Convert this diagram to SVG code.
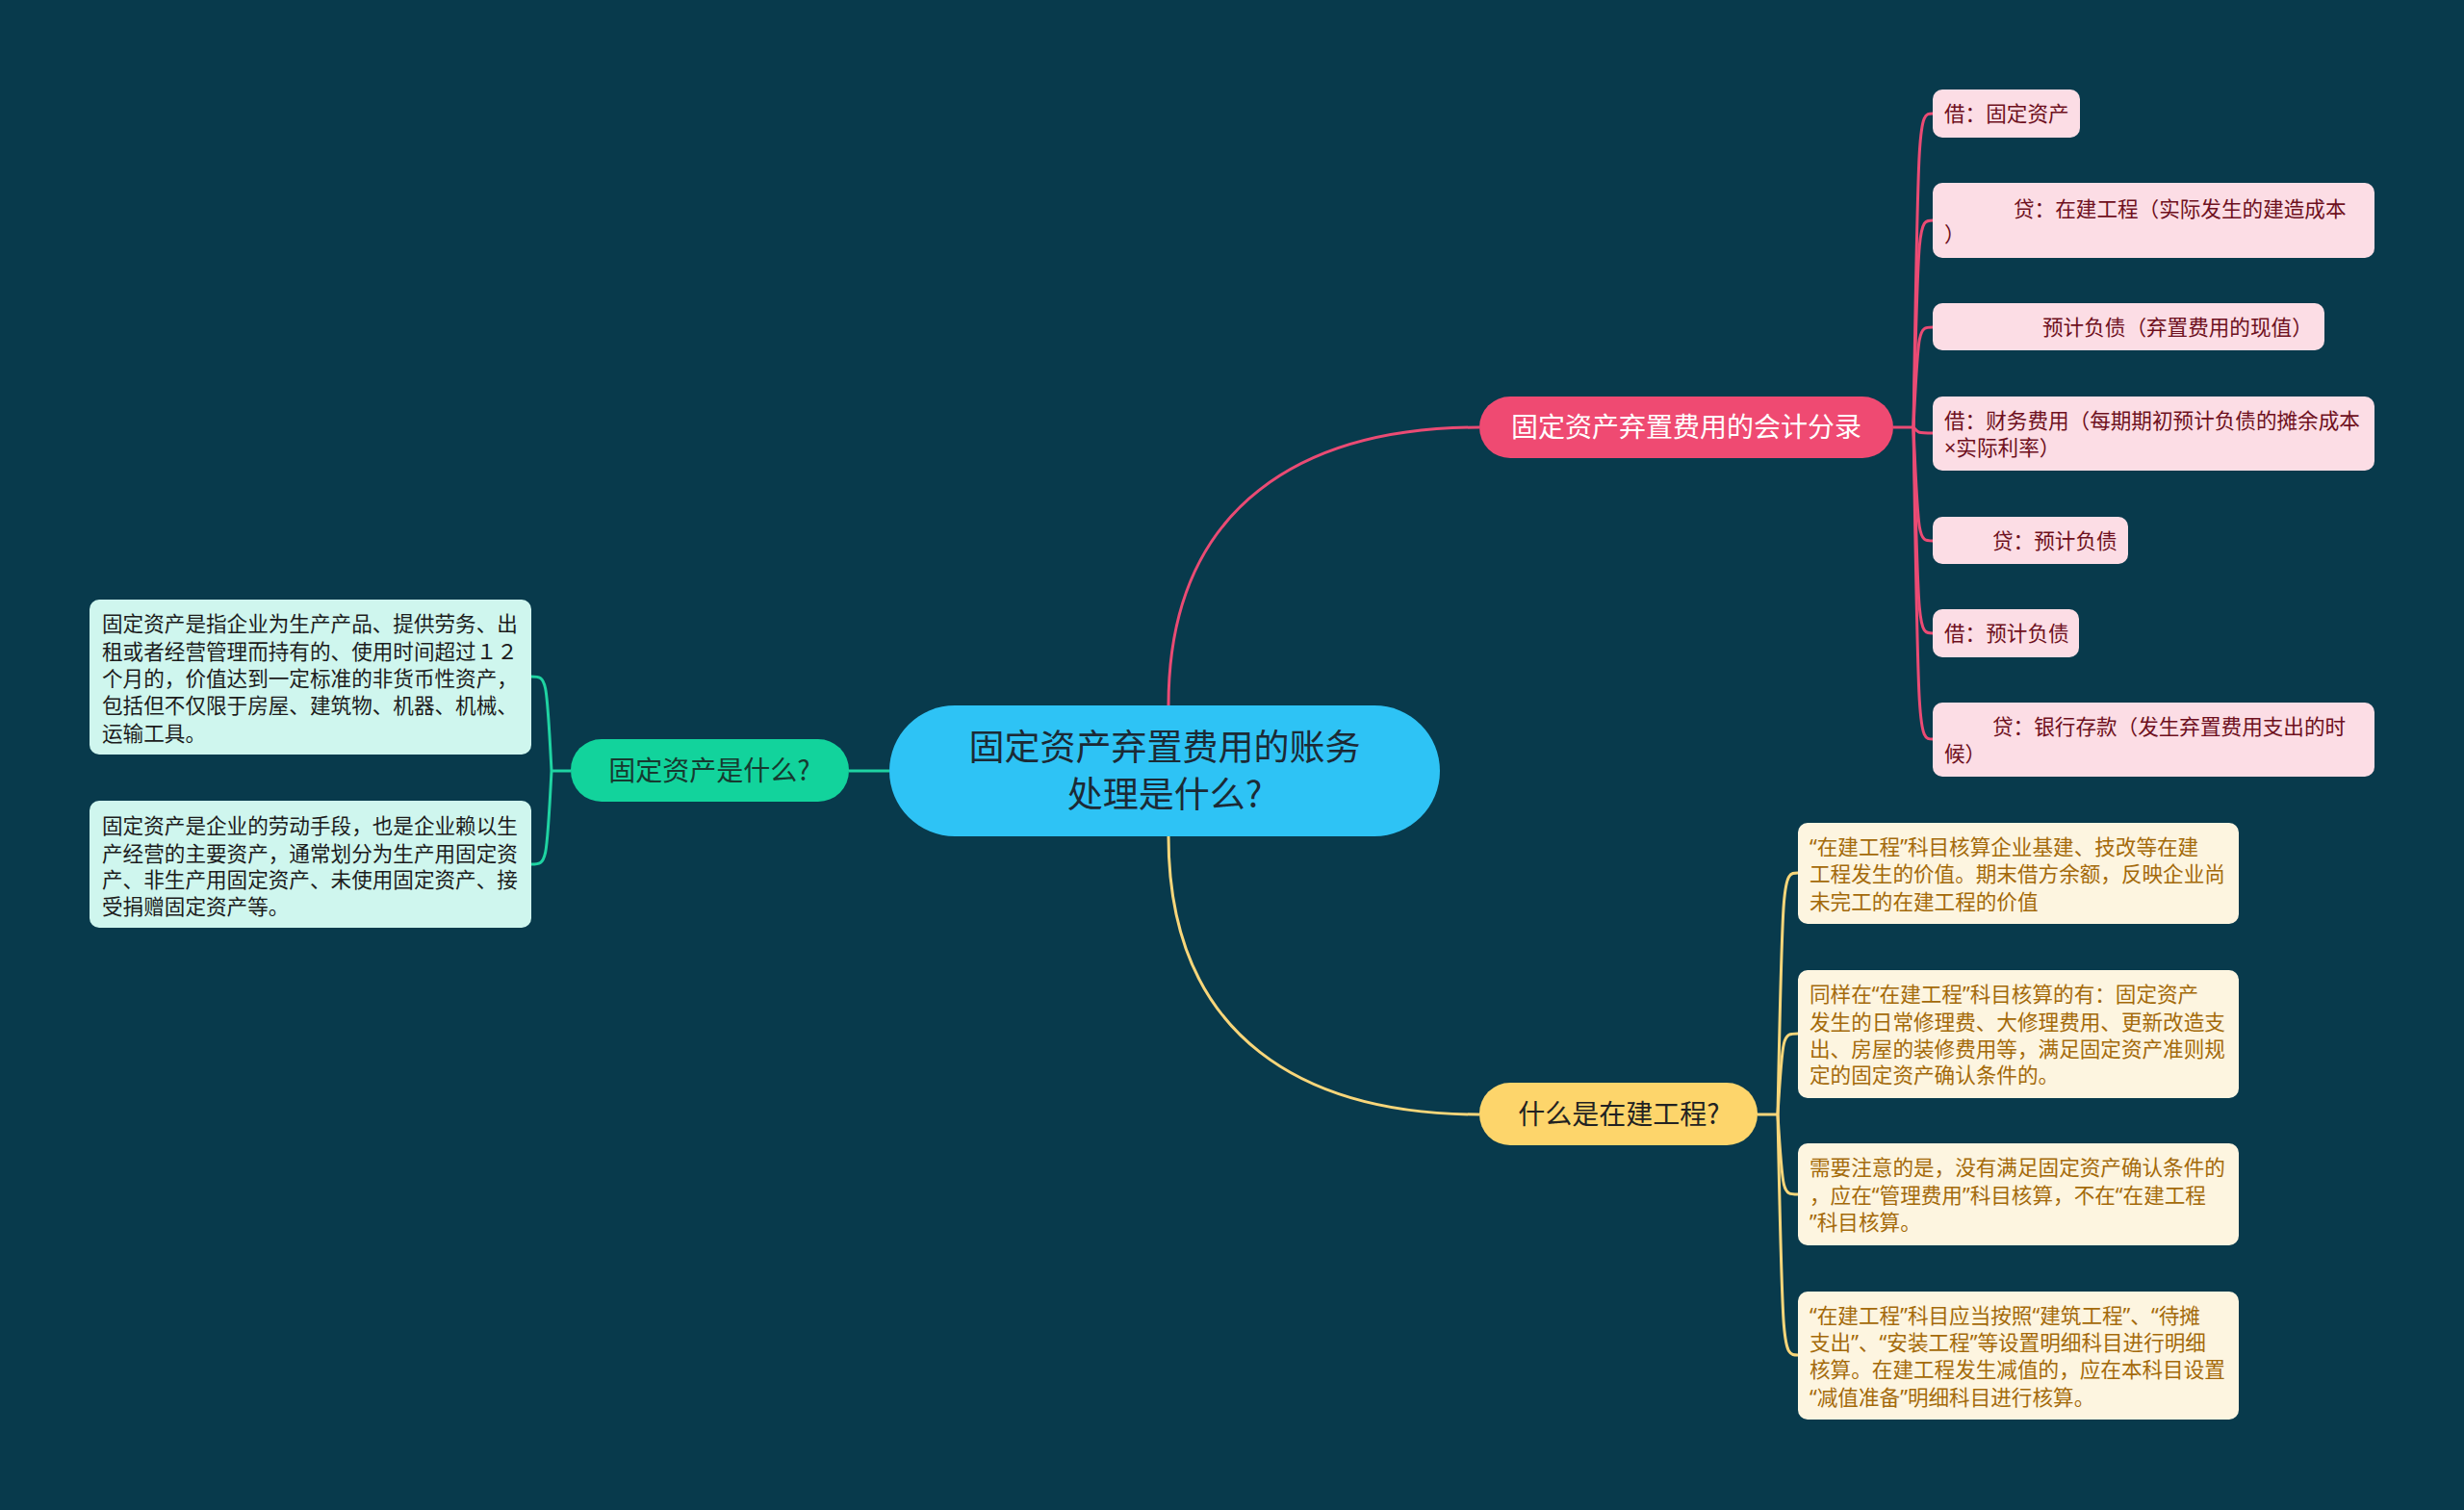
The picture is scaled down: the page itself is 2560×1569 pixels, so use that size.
<svg xmlns="http://www.w3.org/2000/svg" width="2560" height="1569" viewBox="0 0 2560 1569">
<defs>
<style>
text{font-family:"Noto Sans CJK SC","Noto Sans",sans-serif;}
.bg{fill:#083a4c;}
.c-pink{fill:none;stroke:#ea4b74;stroke-width:3;}
.c-yel{fill:none;stroke:#f8d67a;stroke-width:3;}
.c-grn{fill:none;stroke:#1fd3a2;stroke-width:3;}
.root{fill:#2ec3f5;}
.root-t{font-size:37px;fill:#1c2a35;text-anchor:middle;}
.b-pink{fill:#ef4a72;}
.b-yel{fill:#fdd56b;}
.b-grn{fill:#12d39c;}
.bt-pink{font-size:28px;fill:#ffffff;text-anchor:middle;}
.bt-dark{font-size:28px;fill:#222222;text-anchor:middle;}
.bt-grn{font-size:28px;fill:#163a30;text-anchor:middle;}
.l-pink{fill:#fcdde5;}
.l-yel{fill:#fdf5e0;}
.l-grn{fill:#cff6ee;}
.lt-pink,.lt-yel{font-family:"Noto Sans","Noto Sans CJK SC",sans-serif;}
.lt-pink{font-size:21.6px;fill:#6e1020;}
.lt-yel{font-size:21.6px;fill:#a46a0a;}
.lt-grn{font-size:21.6px;fill:#1c1c1c;}
</style>
</defs>
<rect class="bg" x="0" y="0" width="2560" height="1569"/>

<g id="connectors">
<path class="c-pink" d="M1214,733 C1214,520 1360,444 1537,444"/>
<path class="c-yel" d="M1214,869 C1214,1082 1360,1158 1537,1158"/>
<path class="c-grn" d="M924,801 L882,801"/>
<path class="c-pink" d="M1967,444 L1988,444"/>
<path class="c-pink" d="M1988,444 C1993,118 1993,118 2008,118"/>
<path class="c-pink" d="M1988,444 C1993,229 1993,229 2008,229"/>
<path class="c-pink" d="M1988,444 C1993,340 1993,340 2008,340"/>
<path class="c-pink" d="M1988,444 C1993,450 1993,450 2008,450"/>
<path class="c-pink" d="M1988,444 C1993,562 1993,562 2008,562"/>
<path class="c-pink" d="M1988,444 C1993,658 1993,658 2008,658"/>
<path class="c-pink" d="M1988,444 C1993,768 1993,768 2008,768"/>
<path class="c-yel" d="M1826,1158 L1847,1158"/>
<path class="c-yel" d="M1847,1158 C1852,907 1852,907 1868,907"/>
<path class="c-yel" d="M1847,1158 C1852,1074 1852,1074 1868,1074"/>
<path class="c-yel" d="M1847,1158 C1852,1241 1852,1241 1868,1241"/>
<path class="c-yel" d="M1847,1158 C1852,1408 1852,1408 1868,1408"/>
<path class="c-grn" d="M593,801 L573,801"/>
<path class="c-grn" d="M573,801 C568,703 568,703 552,703"/>
<path class="c-grn" d="M573,801 C568,898 568,898 552,898"/>
</g>

<g id="root">
<rect class="root" x="924" y="733" width="572" height="136" rx="68"/>
<text class="root-t" x="1210" y="790">固定资产弃置费用的账务</text>
<text class="root-t" x="1210" y="839">处理是什么?</text>
</g>

<g id="branch-accounting">
<rect class="b-pink" x="1537" y="412" width="430" height="64" rx="32"/>
<text class="bt-pink" x="1752" y="454">固定资产弃置费用的会计分录</text>
</g>

<g id="branch-construction">
<rect class="b-yel" x="1537" y="1125" width="289" height="65" rx="32"/>
<text class="bt-dark" x="1682" y="1168">什么是在建工程?</text>
</g>

<g id="branch-fixed">
<rect class="b-grn" x="593" y="768" width="289" height="65" rx="32"/>
<text class="bt-grn" x="737" y="811">固定资产是什么?</text>
</g>

<g id="p1"><rect class="l-pink" x="2008" y="93" width="153" height="50" rx="10"/>
<text class="lt-pink" x="2020" y="126">借：固定资产</text></g>
<g id="p2"><rect class="l-pink" x="2008" y="190" width="459" height="78" rx="10"/>
<text class="lt-pink"><tspan x="2092" y="225">贷：在建工程（实际发生的建造成本</tspan><tspan x="2020" y="251">）</tspan></text></g>
<g id="p3"><rect class="l-pink" x="2008" y="315" width="407" height="49" rx="10"/>
<text class="lt-pink" x="2122" y="348">预计负债（弃置费用的现值）</text></g>
<g id="p4"><rect class="l-pink" x="2008" y="412" width="459" height="77" rx="10"/>
<text class="lt-pink"><tspan x="2020" y="445">借：财务费用（每期期初预计负债的摊余成本</tspan><tspan x="2020" y="473">×实际利率）</tspan></text></g>
<g id="p5"><rect class="l-pink" x="2008" y="537" width="203" height="49" rx="10"/>
<text class="lt-pink" x="2070" y="570">贷：预计负债</text></g>
<g id="p6"><rect class="l-pink" x="2008" y="633" width="152" height="50" rx="10"/>
<text class="lt-pink" x="2020" y="666">借：预计负债</text></g>
<g id="p7"><rect class="l-pink" x="2008" y="730" width="459" height="77" rx="10"/>
<text class="lt-pink"><tspan x="2070" y="763">贷：银行存款（发生弃置费用支出的时</tspan><tspan x="2020" y="791">候）</tspan></text></g>

<g id="y1"><rect class="l-yel" x="1868" y="855" width="458" height="105" rx="10"/>
<text class="lt-yel"><tspan x="1880" y="888">“在建工程”科目核算企业基建、技改等在建</tspan><tspan x="1880" y="916">工程发生的价值。期末借方余额，反映企业尚</tspan><tspan x="1880" y="945">未完工的在建工程的价值</tspan></text></g>
<g id="y2"><rect class="l-yel" x="1868" y="1008" width="458" height="133" rx="10"/>
<text class="lt-yel"><tspan x="1880" y="1041">同样在“在建工程”科目核算的有：固定资产</tspan><tspan x="1880" y="1070">发生的日常修理费、大修理费用、更新改造支</tspan><tspan x="1880" y="1098">出、房屋的装修费用等，满足固定资产准则规</tspan><tspan x="1880" y="1125">定的固定资产确认条件的。</tspan></text></g>
<g id="y3"><rect class="l-yel" x="1868" y="1188" width="458" height="106" rx="10"/>
<text class="lt-yel"><tspan x="1880" y="1221">需要注意的是，没有满足固定资产确认条件的</tspan><tspan x="1880" y="1250">，应在“管理费用”科目核算，不在“在建工程</tspan><tspan x="1880" y="1278">”科目核算。</tspan></text></g>
<g id="y4"><rect class="l-yel" x="1868" y="1342" width="458" height="133" rx="10"/>
<text class="lt-yel"><tspan x="1880" y="1375">“在建工程”科目应当按照“建筑工程”、“待摊</tspan><tspan x="1880" y="1403">支出”、“安装工程”等设置明细科目进行明细</tspan><tspan x="1880" y="1431">核算。在建工程发生减值的，应在本科目设置</tspan><tspan x="1880" y="1460">“减值准备”明细科目进行核算。</tspan></text></g>

<g id="g1"><rect class="l-grn" x="93" y="623" width="459" height="161" rx="10"/>
<text class="lt-grn"><tspan x="106" y="656">固定资产是指企业为生产产品、提供劳务、出</tspan><tspan x="106" y="685">租或者经营管理而持有的、使用时间超过１２</tspan><tspan x="106" y="713">个月的，价值达到一定标准的非货币性资产，</tspan><tspan x="106" y="741">包括但不仅限于房屋、建筑物、机器、机械、</tspan><tspan x="106" y="770">运输工具。</tspan></text></g>
<g id="g2"><rect class="l-grn" x="93" y="832" width="459" height="132" rx="10"/>
<text class="lt-grn"><tspan x="106" y="866">固定资产是企业的劳动手段，也是企业赖以生</tspan><tspan x="106" y="895">产经营的主要资产，通常划分为生产用固定资</tspan><tspan x="106" y="922">产、非生产用固定资产、未使用固定资产、接</tspan><tspan x="106" y="950">受捐赠固定资产等。</tspan></text></g>
</svg>
